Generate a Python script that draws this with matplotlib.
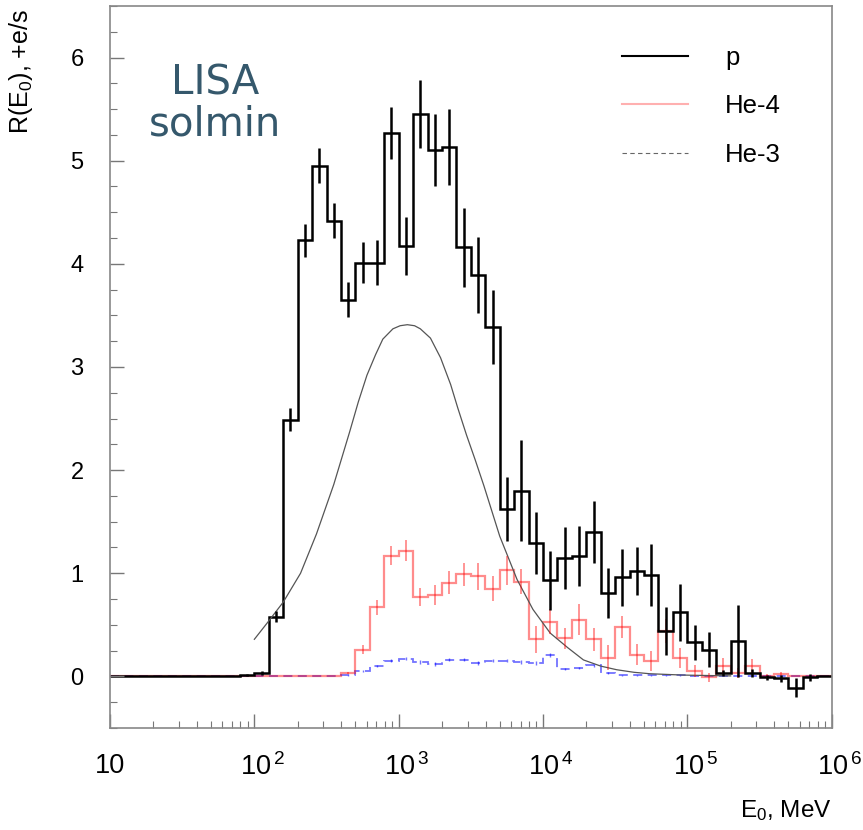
import numpy as np
import matplotlib
matplotlib.use('Agg')
import matplotlib.pyplot as plt
import matplotlib.transforms as mtransforms
from matplotlib.lines import Line2D
from matplotlib.ticker import LogLocator, MultipleLocator, NullFormatter

plt.rcParams['font.family'] = ['Liberation Sans', 'DejaVu Sans']
plt.rcParams['mathtext.fontset'] = 'custom'
plt.rcParams['mathtext.rm'] = 'Liberation Sans'
plt.rcParams['mathtext.it'] = 'Liberation Sans:italic'

# 10 bins per decade from 10 MeV to 1e6 MeV
edges = np.logspace(1, 6, 51)
centers = np.sqrt(edges[:-1] * edges[1:])

# protons, rate per bin (+e/s) and stat errors
p_rate = [0, 0, 0, 0, 0, 0, 0, 0, 0,
          0.01, 0.03, 0.58, 2.49, 4.23, 4.95, 4.42, 3.65, 4.01, 4.01,
          5.27, 4.17, 5.45, 5.10, 5.13, 4.16, 3.89, 3.39, 1.62, 1.80,
          1.29, 0.93, 1.15, 1.17, 1.40, 0.81, 0.96, 1.02, 0.98, 0.44,
          0.62, 0.33, 0.26, 0.03, 0.34, 0.03, -0.01, -0.02, -0.11, -0.01,
          0.0]
p_err = [0, 0, 0, 0, 0, 0, 0, 0, 0,
         0.01, 0.02, 0.05, 0.11, 0.16, 0.17, 0.17, 0.17, 0.20, 0.22,
         0.25, 0.28, 0.33, 0.35, 0.37, 0.38, 0.37, 0.36, 0.31, 0.49,
         0.30, 0.29, 0.30, 0.29, 0.30, 0.24, 0.28, 0.23, 0.30, 0.23,
         0.28, 0.17, 0.17, 0.03, 0.35, 0.04, 0.02, 0.03, 0.09, 0.03,
         0.0]

# He-4
he4_rate = [0] * 16 + [
    0.03, 0.26, 0.67, 1.17, 1.22, 0.77, 0.79, 0.91, 0.99, 0.97,
    0.85, 1.03, 0.92, 0.36, 0.53, 0.37, 0.55, 0.36, 0.18, 0.48,
    0.21, 0.15, 0.44, 0.18, 0.05, -0.01, 0.10, 0.03, 0.10, 0.0,
    0.02, 0.0, 0.0, 0.0]
he4_err = [0] * 16 + [
    0.01, 0.04, 0.07, 0.09, 0.10, 0.09, 0.10, 0.11, 0.11, 0.13,
    0.12, 0.14, 0.12, 0.13, 0.12, 0.10, 0.15, 0.11, 0.12, 0.11,
    0.10, 0.10, 0.12, 0.10, 0.06, 0.04, 0.08, 0.05, 0.07, 0.02,
    0.02, 0.0, 0.0, 0.0]

# He-3
he3_rate = [0] * 16 + [
    0.01, 0.05, 0.10, 0.15, 0.17, 0.14, 0.12, 0.16, 0.16, 0.13,
    0.15, 0.15, 0.14, 0.13, 0.21, 0.07, 0.08, 0.11, 0.03, 0.01,
    0.01, 0.01, 0.01, 0.01, 0.005, 0, 0, 0, 0, 0,
    0, 0, 0, 0]
he3_err = [0] * 16 + [
    0.005, 0.01, 0.01, 0.015, 0.015, 0.015, 0.015, 0.015, 0.015, 0.015,
    0.015, 0.015, 0.015, 0.015, 0.02, 0.01, 0.01, 0.015, 0.01, 0.005,
    0.005, 0.005, 0.005, 0.005, 0, 0, 0, 0, 0, 0,
    0, 0, 0, 0]

# smooth reference spectrum (log10 E, R)
curve_logE = [2.00, 2.09, 2.20, 2.32, 2.43, 2.55, 2.66, 2.72, 2.78, 2.84,
              2.89, 2.96, 3.01, 3.06, 3.11, 3.15, 3.22, 3.29, 3.36, 3.41,
              3.47, 3.53, 3.59, 3.70, 3.82, 3.93, 4.05, 4.17, 4.28, 4.40,
              4.51, 4.63, 4.74, 4.97, 5.30]
curve_R = [0.36, 0.52, 0.72, 1.00, 1.38, 1.86, 2.37, 2.66, 2.92, 3.12,
           3.27, 3.37, 3.40, 3.41, 3.40, 3.37, 3.28, 3.09, 2.83, 2.60,
           2.34, 2.10, 1.85, 1.36, 0.94, 0.65, 0.42, 0.28, 0.16, 0.10,
           0.065, 0.04, 0.026, 0.013, 0.005]

xticks = [1e1, 1e2, 1e3, 1e4, 1e5, 1e6]
xticklabels = ['10', r'$10^{\,2}$', r'$10^{\,3}$', r'$10^{\,4}$',
               r'$10^{\,5}$', r'$10^{\,6}$']

fig = plt.figure(figsize=(8.63, 8.30), dpi=100)
ax = fig.add_axes([0.1275, 0.1229, 0.8362, 0.8699])

ax.plot(10 ** np.array(curve_logE), curve_R, color='#555555', lw=0.9)

ax.stairs(he3_rate, edges, color='blue', alpha=0.55, lw=1.3, ls=(0, (5, 3)))
ax.errorbar(centers, he3_rate, yerr=he3_err, fmt='none', ecolor='blue',
            alpha=0.55, elinewidth=1.0)

ax.stairs(he4_rate, edges, color='red', alpha=0.45, lw=1.6)
ax.errorbar(centers, he4_rate, yerr=he4_err, fmt='none', ecolor='red',
            alpha=0.45, elinewidth=1.3)

ax.stairs(p_rate, edges, color='black', lw=1.8)
ax.errorbar(centers, p_rate, yerr=p_err, fmt='none', ecolor='black',
            elinewidth=1.8)

ax.set_xscale('log')
ax.set_xlim(1e1, 1e6)
ax.set_ylim(-0.5, 6.5)

ax.set_xticks(xticks)
ax.set_xticklabels(xticklabels, fontsize=19.5)
ax.xaxis.set_minor_locator(LogLocator(base=10, subs=np.arange(2, 10)))
ax.xaxis.set_minor_formatter(NullFormatter())
ax.set_yticks(range(0, 7))
ax.set_yticklabels([str(v) for v in range(0, 7)], fontsize=17)
ax.yaxis.set_minor_locator(MultipleLocator(0.25))

ax.tick_params(which='both', direction='in', top=False, right=False,
               color='#777777')
ax.tick_params(which='major', length=10, width=1.0)
ax.tick_params(which='minor', length=5, width=0.8)
ax.tick_params(axis='x', pad=18)
ax.tick_params(axis='y', pad=19)

# nudge exponent labels so that the "10" sits under the tick
shift = mtransforms.ScaledTranslation(8 / 100, 0, fig.dpi_scale_trans)
for lab in ax.get_xticklabels()[1:]:
    lab.set_transform(lab.get_transform() + shift)

for sp in ax.spines.values():
    sp.set_color('#888888')
    sp.set_linewidth(1.2)

ax.set_ylabel(r'R(E$_0$), +e/s', fontsize=18, loc='top')
ax.yaxis.set_label_coords(-0.104, 0.996)
ax.set_xlabel(r'E$_0$, MeV', fontsize=17.5, loc='right')
ax.xaxis.set_label_coords(1.0, -0.097)

handles = [Line2D([], [], color='black', lw=1.5),
           Line2D([], [], color='#ffb0b0', lw=1.5),
           Line2D([], [], color='#666666', lw=0.8, ls=(0, (4, 3)))]
ax.legend(handles, ['p', 'He-4', 'He-3'], loc='upper left',
          bbox_to_anchor=(622 / 863, 1 - 46 / 830),
          bbox_transform=fig.transFigure, frameon=False, fontsize=18.5,
          handlelength=2.57, handletextpad=1.44, labelspacing=0.95,
          borderpad=0, borderaxespad=0)

fig.text(215 / 863, 1 - 104 / 830, 'LISA\nsolmin', ha='center', va='center',
         fontsize=29, color='#35586c', linespacing=1.05,
         family='DejaVu Sans')

fig.savefig('out.png', dpi=100)
